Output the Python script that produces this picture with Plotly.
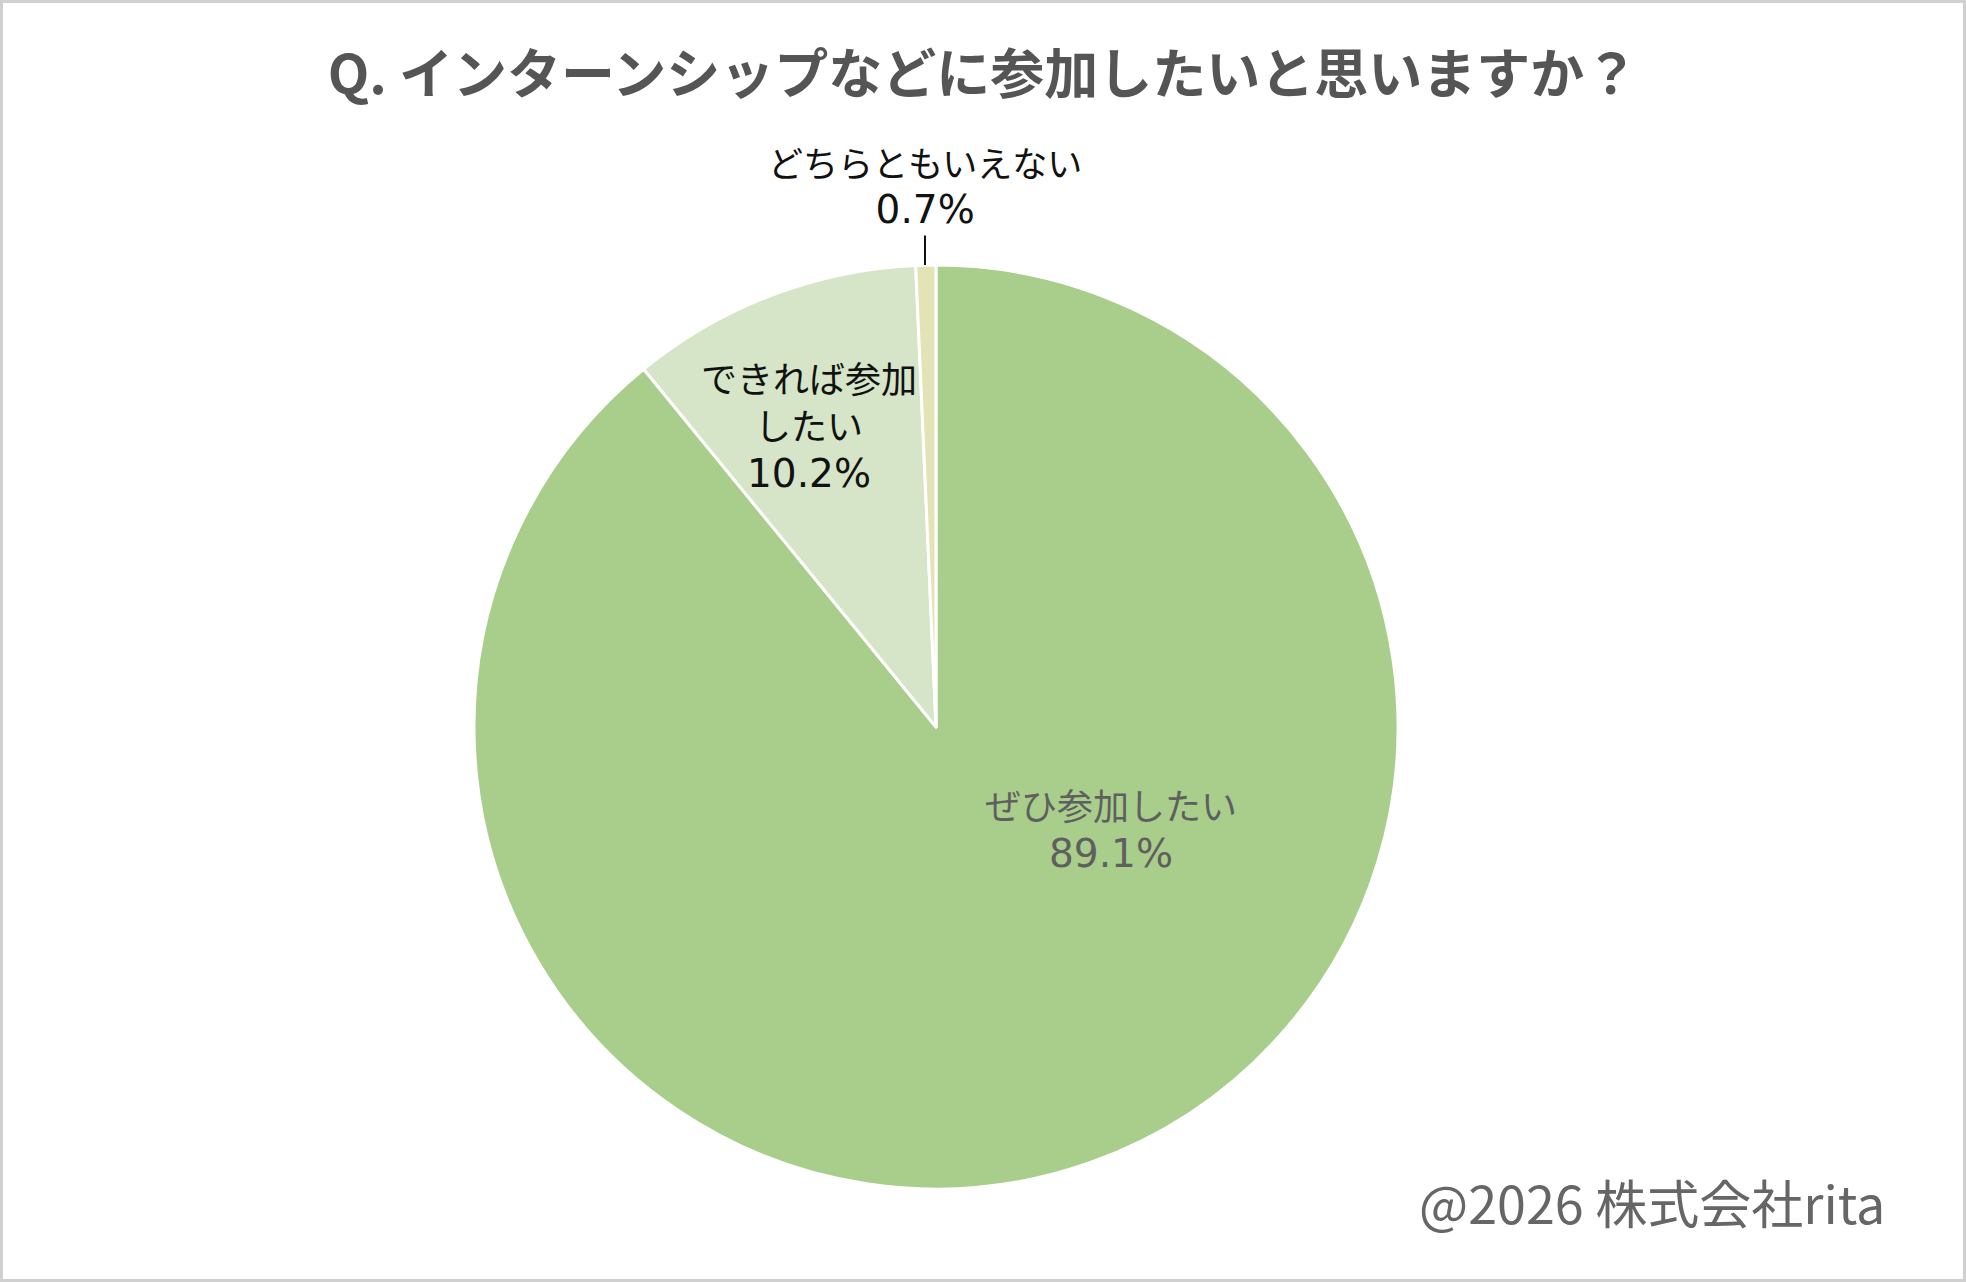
import plotly.graph_objects as go

# answers to "Q. インターンシップなどに参加したいと思いますか？"
answers = ["ぜひ参加したい", "できれば参加したい", "どちらともいえない"]
shares = [89.1, 10.2, 0.7]
label_lines = ["ぜひ参加したい", "できれば参加<br>したい", "どちらともいえない"]
slice_colors = ["#a9cd8a", "#d6e4c8", "#e3e4b6"]
label_colors = ["#5f5f5f", "#111111", "#111111"]

W, H = 1966, 1282
FONT = "Noto Sans CJK JP"
NUM_FONT = "DejaVu Sans"


def px(x):
    return x / W


def py(y):
    return 1 - y / H


# pie centre (936, 727) and radius 462 in page pixels
cx, cy, r = 936, 727, 462

fig = go.Figure()
fig.add_trace(go.Pie(
    labels=answers,
    values=shares,
    sort=False,
    direction="clockwise",
    rotation=0,
    textinfo="none",
    hoverinfo="skip",
    marker=dict(colors=slice_colors, line=dict(color="white", width=3)),
    domain=dict(x=[px(cx - r), px(cx + r)], y=[py(cy + r), py(cy - r)]),
    showlegend=False,
))

# label spots in page pixels (text centre)
label_spots = [(1111, 827), (809, 423), (925, 184)]

for i, (txt, val) in enumerate(zip(label_lines, shares)):
    x, y = label_spots[i]
    text = (f"{txt}<br><span style=\"font-family:'{NUM_FONT}';"
            f"font-size:39px\">{val:.1f}%</span>")
    if i == 2:
        # small slice: label above the pie with a short leader line
        fig.add_annotation(
            x=px(x), y=py(cy - r), xref="paper", yref="paper",
            text=text, showarrow=True, arrowhead=0, arrowwidth=2,
            arrowcolor="#111111", ax=0, ay=-(cy - r - y),
            standoff=0, startstandoff=2,
            font=dict(family=FONT, size=35, color=label_colors[i]),
        )
    else:
        fig.add_annotation(
            x=px(x), y=py(y), xref="paper", yref="paper",
            xanchor="center", yanchor="middle",
            text=text, showarrow=False,
            font=dict(family=FONT, size=36, color=label_colors[i]),
        )

fig.add_annotation(
    x=px(1887), y=py(1201), xref="paper", yref="paper",
    xanchor="right", yanchor="middle", showarrow=False,
    text="@2026 株式会社rita",
    font=dict(family=FONT, size=52, color="#666666"),
)

# outer frame
fig.add_shape(
    type="rect", xref="paper", yref="paper",
    x0=px(1.5), x1=px(W - 1.5), y0=py(H - 1.5), y1=py(1.5),
    line=dict(color="#d0d0d0", width=3),
)

fig.update_layout(
    width=W,
    height=H,
    margin=dict(l=0, r=0, t=0, b=0),
    paper_bgcolor="white",
    plot_bgcolor="white",
    title=dict(
        text="<b>Q. インターンシップなどに参加したいと思いますか？</b>",
        x=0.5, xanchor="center", y=py(75), yanchor="middle",
        font=dict(family=FONT, size=54, color="#555555"),
    ),
)

fig.write_html(
    "out.html",
    config={"displayModeBar": False},
    post_script="document.body.style.margin='0';",
)
